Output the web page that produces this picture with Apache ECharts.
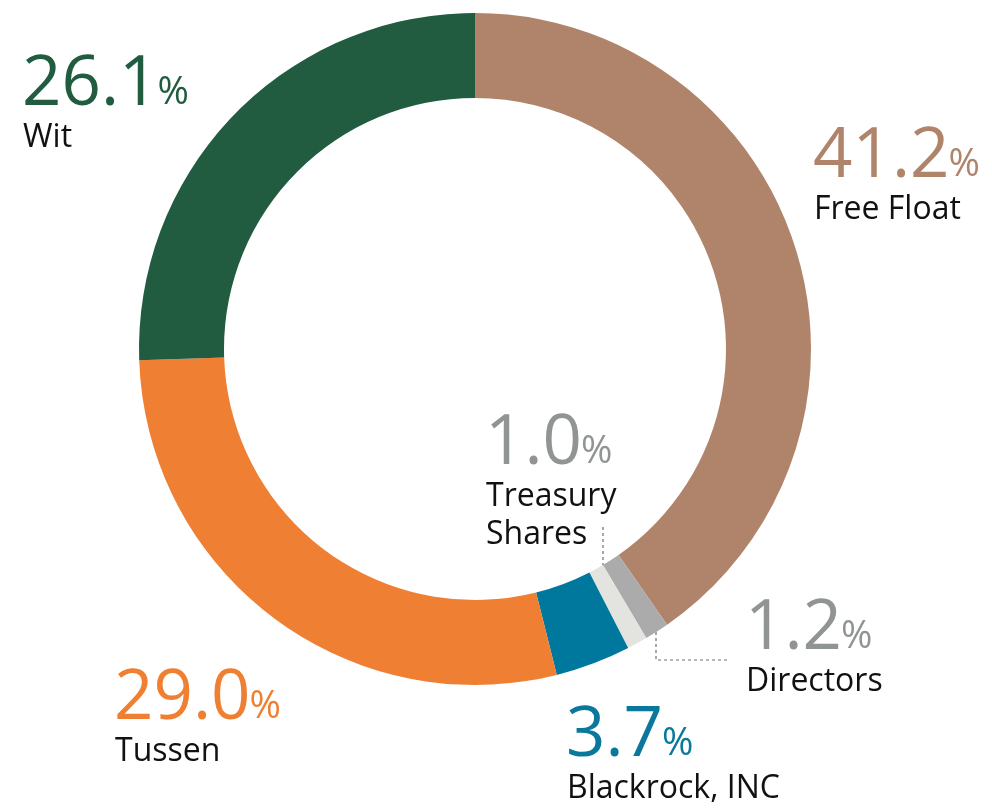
<!DOCTYPE html>
<html>
<head>
<meta charset="utf-8">
<style>
  html, body { margin: 0; padding: 0; background: #ffffff; }
  #chart { width: 992px; height: 810px; }
</style>
<script src="https://cdn.jsdelivr.net/npm/echarts@6/dist/echarts.min.js"></script>
</head>
<body>
<div id="chart"></div>
<script>
// Shareholder structure, clockwise from 12 o'clock
const names   = ['Free Float', 'Directors', 'Treasury\nShares', 'Blackrock, INC', 'Tussen', 'Wit'];
const shares  = [41.2, 1.2, 1.0, 3.7, 29.0, 26.1];
const colors  = ['#B0846A', '#ABABAB', '#E3E3DF', '#00789E', '#EF7F32', '#225C40'];
const labelColors = ['#B0846A', '#909493', '#909493', '#0A789C', '#EF8033', '#225C40'];

// Label anchor: left edge and baseline of the big figure
const labelAnchors = [
  [815, 175],   // Free Float
  [747, 647],   // Directors
  [487, 462],   // Treasury Shares
  [568, 754],   // Blackrock
  [116, 717],   // Tussen
  [24, 103]     // Wit
];

const FONT = "'Open Sans', 'Noto Sans', sans-serif";
const NUM_SIZE = 69, PCT_SIZE = 38, NAME_SIZE = 32, NAME_LH = 38;

const ctx = document.createElement('canvas').getContext('2d');
function textWidth(str, size, weight) {
  ctx.font = weight + ' ' + size + 'px ' + FONT;
  return ctx.measureText(str).width;
}

const chart = echarts.init(document.getElementById('chart'), null, { renderer: 'canvas' });

const graphics = [];
shares.forEach((v, i) => {
  const [x, y] = labelAnchors[i];
  const numText = v.toFixed(1);
  const w = textWidth(numText, NUM_SIZE, 400);
  graphics.push({
    type: 'text', x: x - 2, y: y + NUM_SIZE * 0.27 - 2,
    style: { text: numText, font: '400 ' + NUM_SIZE + 'px ' + FONT, fill: labelColors[i],
             textAlign: 'left', verticalAlign: 'bottom' }
  });
  graphics.push({
    type: 'text', x: x + w - 3, y: y + PCT_SIZE * 0.27 - 1,
    style: { text: '%', font: '400 ' + PCT_SIZE + 'px ' + FONT, fill: labelColors[i],
             textAlign: 'left', verticalAlign: 'bottom' }
  });
  names[i].split('\n').forEach((line, k) => {
    graphics.push({
      type: 'text', x: x - 1, y: y + 42 + k * NAME_LH + NAME_SIZE * 0.27,
      style: { text: line, font: '400 ' + NAME_SIZE + 'px ' + FONT, fill: '#111111',
               textAlign: 'left', verticalAlign: 'bottom' }
    });
  });
});

// Dotted leader lines for the two thin slices
const leaderStyle = { stroke: '#6f6f6f', lineWidth: 1.2, lineDash: [3, 3] };
graphics.push({ type: 'polyline', shape: { points: [[603, 527], [603, 575]] }, style: leaderStyle });
graphics.push({ type: 'polyline', shape: { points: [[656, 620], [656, 660], [727, 660]] }, style: leaderStyle });

chart.setOption({
  animation: false,
  backgroundColor: '#ffffff',
  series: [{
    type: 'pie',
    center: [475, 349],
    radius: [251, 336],
    startAngle: 90,
    clockwise: true,
    silent: true,
    label: { show: false },
    labelLine: { show: false },
    itemStyle: { borderWidth: 0 },
    data: shares.map((v, i) => ({ name: names[i], value: v, itemStyle: { color: colors[i] } }))
  }],
  graphic: graphics
});
</script>
</body>
</html>
